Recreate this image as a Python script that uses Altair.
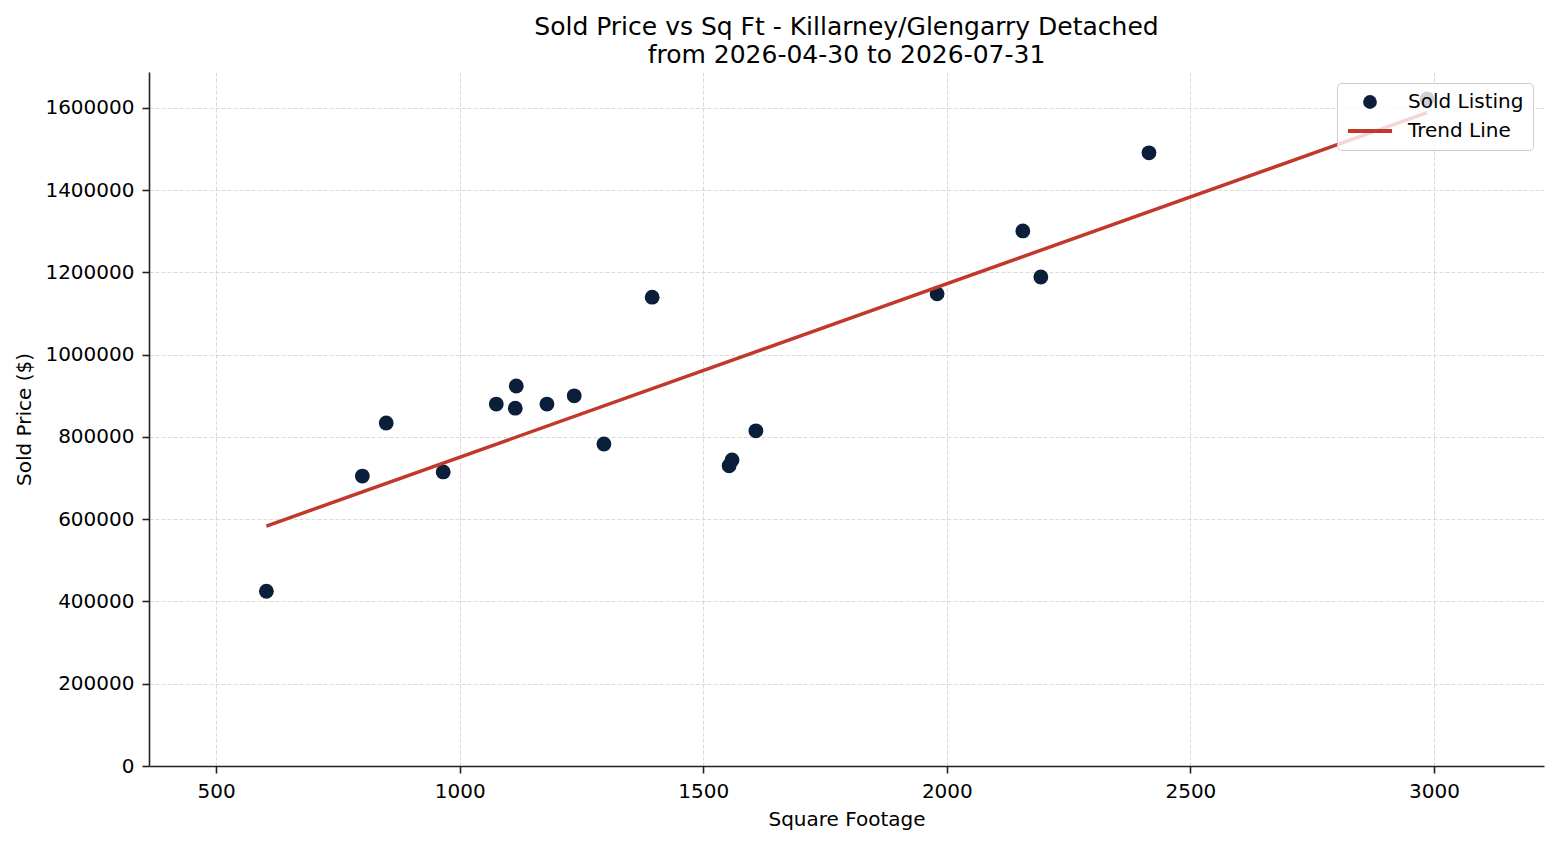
import altair as alt
import pandas as pd

# ---- data ----
sqft = [603, 800, 849, 966, 1075, 1114, 1116, 1179, 1235, 1296, 1395,
        1553, 1559, 1608, 1980, 2156, 2193, 2415, 2986]
price = [425000, 705000, 834000, 715000, 880000, 870000, 924000, 880000,
         900000, 783000, 1140000, 730000, 744000, 815000, 1148000, 1301000,
         1189000, 1491000, 1622000]
series_names = ["Sold Listing", "Trend Line"]
title_lines = ["Sold Price vs Sq Ft - Killarney/Glengarry Detached",
               "from 2026-04-30 to 2026-07-31"]
x_ticks = [500, 1000, 1500, 2000, 2500, 3000]
y_ticks = [0, 200000, 400000, 600000, 800000, 1000000, 1200000, 1400000, 1600000]
x_domain = [362, 3226]
y_domain = [0, 1687500]

df = pd.DataFrame({"sqft": sqft, "price": price, "series": series_names[0]})

FONT = "DejaVu Sans"
NAVY = "#0b1f3a"
RED = "#c0392b"

x_enc = alt.X("sqft:Q", title="Square Footage",
              scale=alt.Scale(domain=x_domain, nice=False, zero=False),
              axis=alt.Axis(values=x_ticks, format="d"))
y_enc = alt.Y("price:Q", title="Sold Price ($)",
              scale=alt.Scale(domain=y_domain, nice=False),
              axis=alt.Axis(values=y_ticks, format="d"))

line_path = "M-3.2,-0.3L3.2,-0.3L3.2,0.3L-3.2,0.3Z"

legend = alt.Legend(title=None, orient="top-right",
                    offset=11, padding=9,
                    symbolSize=190, symbolOffset=14,
                    labelOffset=28, rowPadding=9,
                    labelFontSize=20, labelFont=FONT,
                    labelColor="#000000",
                    fillColor="rgba(255,255,255,0.8)",
                    strokeColor="#cccccc",
                    cornerRadius=4)

points = alt.Chart(df).mark_point(size=220, filled=True, opacity=1).encode(
    x=x_enc,
    y=y_enc,
    color=alt.Color("series:N",
                    scale=alt.Scale(domain=series_names, range=[NAVY, RED]),
                    legend=legend),
    shape=alt.Shape("series:N",
                    scale=alt.Scale(domain=series_names,
                                    range=["circle", line_path]),
                    legend=legend),
)

trend = alt.Chart(df).transform_regression(
    "sqft", "price", method="linear"
).mark_line(color=RED, strokeWidth=3.5).encode(
    x="sqft:Q",
    y="price:Q",
)

chart = alt.layer(points, trend).properties(
    width=1395,
    height=694,
    background="white",
    padding={"left": 6, "top": 7, "right": 6, "bottom": 5},
    title=alt.TitleParams(text=title_lines, font=FONT, fontSize=25,
                          fontWeight="normal", lineHeight=28, color="#000000",
                          anchor="middle", frame="group", offset=4),
).configure_view(
    stroke=None
).configure_axis(
    labelFont=FONT, titleFont=FONT,
    labelFontSize=20, titleFontSize=20,
    labelColor="#000000", titleColor="#000000",
    titleFontWeight="normal",
    domainColor="#222222", domainWidth=1.6,
    tickColor="#222222", tickWidth=1.6, tickSize=7,
    labelPadding=8,
    grid=True, gridColor="#d0d0d0", gridDash=[4, 2], gridWidth=0.8,
).configure_axisY(
    titlePadding=10,
).configure_axisX(
    titlePadding=8,
)

chart.save("out.html", embed_options={"renderer": "svg", "actions": False})
